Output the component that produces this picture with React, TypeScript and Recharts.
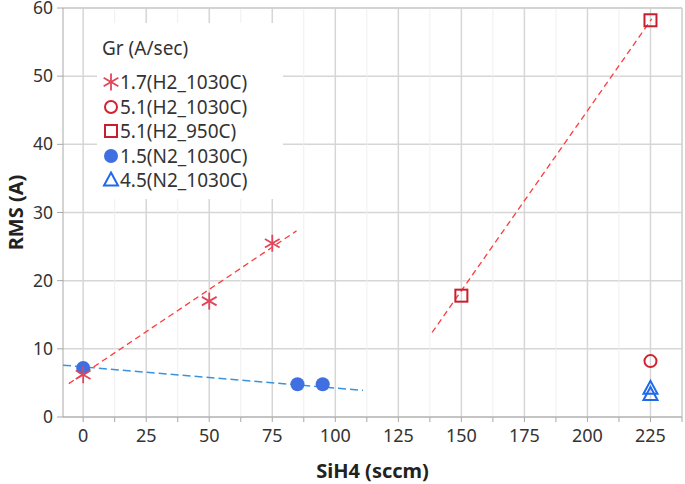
import { ScatterChart, Scatter, XAxis, YAxis, CartesianGrid, ReferenceLine, Label } from "recharts";

// series
const h2Asterisk = [{ x: 0, y: 6.2 }, { x: 50, y: 17 }, { x: 75, y: 25.5 }];
const h2Circle = [{ x: 225, y: 8.2 }];
const h2Square = [{ x: 150, y: 17.8 }, { x: 225, y: 58.2 }];
const n2Dot = [{ x: 0, y: 7.2 }, { x: 85, y: 4.8 }, { x: 95, y: 4.8 }];
const n2Triangle = [{ x: 225, y: 4.2 }, { x: 225, y: 3.3 }];

// dashed fit lines (end points)
const fitLow = [{ x: -5.7, y: 4.9 }, { x: 84.6, y: 27.3 }];
const fitHigh = [{ x: 138.4, y: 12.4 }, { x: 225.5, y: 58.4 }];
const fitN2 = [{ x: -8, y: 7.6 }, { x: 111, y: 3.9 }];

const xMajorTicks = [0, 25, 50, 75, 100, 125, 150, 175, 200, 225];
const xMinorTicks = [12.5, 37.5, 62.5, 87.5, 112.5, 137.5, 162.5, 187.5, 212.5, 237.5];
const yTicks = [0, 10, 20, 30, 40, 50, 60];

const legendTitle = "Gr (A/sec)";
const legendItems = [
  { label: "1.7(H2_1030C)", kind: "asterisk" },
  { label: "5.1(H2_1030C)", kind: "circle" },
  { label: "5.1(H2_950C)", kind: "square" },
  { label: "1.5(N2_1030C)", kind: "dot" },
  { label: "4.5(N2_1030C)", kind: "triangle" },
];

const FONT = "'Segoe UI', 'Noto Sans', sans-serif";
const C_AST = "#e0475a";
const C_CIRCLE = "#d42030";
const C_SQUARE = "#c81e2e";
const C_DOT = "#3f6fe0";
const C_TRI = "#1f6aea";

const Marker = ({ kind, cx, cy }: { kind: string; cx: number; cy: number }) => {
  if (kind === "asterisk") {
    const r = 8.5;
    const dx = r * Math.cos(Math.PI / 6);
    const dy = r * Math.sin(Math.PI / 6);
    return (
      <g stroke={C_AST} strokeWidth={1.8}>
        <line x1={cx} y1={cy - r} x2={cx} y2={cy + r} />
        <line x1={cx - dx} y1={cy - dy} x2={cx + dx} y2={cy + dy} />
        <line x1={cx - dx} y1={cy + dy} x2={cx + dx} y2={cy - dy} />
      </g>
    );
  }
  if (kind === "circle") return <circle cx={cx} cy={cy} r={6} fill="none" stroke={C_CIRCLE} strokeWidth={2} />;
  if (kind === "square") return <rect x={cx - 6} y={cy - 6} width={12} height={12} fill="none" stroke={C_SQUARE} strokeWidth={2} />;
  if (kind === "dot") return <circle cx={cx} cy={cy} r={7} fill={C_DOT} />;
  return (
    <path
      d={`M${cx},${cy - 7.5} L${cx + 7},${cy + 5.5} L${cx - 7},${cy + 5.5} Z`}
      fill="none"
      stroke={C_TRI}
      strokeWidth={2}
      strokeLinejoin="miter"
    />
  );
};

const shapeOf = (kind: string) => (props: any) => <Marker kind={kind} cx={props.cx} cy={props.cy} />;

const XTick = (props: any) => {
  const { x, y, payload } = props;
  if (payload.value % 25 !== 0) return <g />;
  return (
    <text x={x} y={y + 18} textAnchor="middle" fill="#333" fontSize={18} fontFamily={FONT}>
      {payload.value}
    </text>
  );
};

const YTick = (props: any) => {
  const { x, y, payload } = props;
  return (
    <text x={x - 2} y={y + 6} textAnchor="end" fill="#333" fontSize={17.5} fontFamily={FONT}>
      {payload.value}
    </text>
  );
};

const YTitle = (props: any) => {
  const { viewBox } = props;
  const cy = viewBox.y + viewBox.height / 2;
  return (
    <text x={15} y={cy} transform={`rotate(-90, 15, ${cy})`} textAnchor="middle" dominantBaseline="central" fill="#222" fontSize={20} fontWeight="bold" fontFamily={FONT}>
      RMS (A)
    </text>
  );
};

export default function App() {
  return (
    <div style={{ position: "absolute", left: 0, top: 0, width: 685, height: 484, background: "#fff" }}>
      <ScatterChart width={685} height={484} margin={{ top: 8, right: 3, left: 0, bottom: 0 }}>
        <CartesianGrid vertical={false} stroke="#d6d6d6" strokeWidth={1.5} />
        {xMinorTicks.map((v) => (
          <ReferenceLine key={`mn${v}`} x={v} stroke="#efefef" strokeWidth={1} />
        ))}
        {xMajorTicks.map((v) => (
          <ReferenceLine key={`mj${v}`} x={v} stroke="#d6d6d6" strokeWidth={1.5} />
        ))}
        <ReferenceLine y={60} stroke="#cfcfcf" strokeWidth={1.5} />
        <ReferenceLine x={237.5} stroke="#cfcfcf" strokeWidth={1.5} />
        <XAxis
          type="number"
          dataKey="x"
          domain={[-8, 237.5]}
          ticks={[...xMajorTicks, ...xMinorTicks].sort((a, b) => a - b)}
          interval={0}
          allowDataOverflow
          height={67}
          stroke="#a8a8a8"
          tickSize={5}
          tick={<XTick />}
        >
          <Label value="SiH4 (sccm)" position="insideBottom" offset={6} fill="#222" fontSize={20} fontWeight="bold" fontFamily={FONT} />
        </XAxis>
        <YAxis
          type="number"
          dataKey="y"
          domain={[0, 60]}
          ticks={yTicks}
          interval={0}
          allowDataOverflow
          width={63}
          stroke="#a8a8a8"
          tickSize={6}
          tick={<YTick />}
        >
          <Label content={<YTitle />} />
        </YAxis>

        <Scatter data={fitLow} line={{ stroke: "#ff3b3b", strokeWidth: 1.3, strokeDasharray: "6 4" }} shape={() => <g />} isAnimationActive={false} />
        <Scatter data={fitHigh} line={{ stroke: "#ff3b3b", strokeWidth: 1.3, strokeDasharray: "6 4" }} shape={() => <g />} isAnimationActive={false} />
        <Scatter data={fitN2} line={{ stroke: "#3a93dc", strokeWidth: 1.5, strokeDasharray: "8 4" }} shape={() => <g />} isAnimationActive={false} />

        <Scatter data={n2Dot} shape={shapeOf("dot")} isAnimationActive={false} />
        <Scatter data={h2Asterisk} shape={shapeOf("asterisk")} isAnimationActive={false} />
        <Scatter data={h2Circle} shape={shapeOf("circle")} isAnimationActive={false} />
        <Scatter data={h2Square} shape={shapeOf("square")} isAnimationActive={false} />
        <Scatter data={n2Triangle} shape={shapeOf("triangle")} isAnimationActive={false} />
      </ScatterChart>

      {/* legend box */}
      <div
        style={{
          position: "absolute",
          left: 97,
          top: 23,
          width: 186,
          height: 176,
          background: "#fff",
          fontFamily: FONT,
          color: "#333",
        }}
      >
        <div style={{ position: "absolute", left: 5, top: 12, fontSize: 19, lineHeight: "26px" }}>{legendTitle}</div>
        {legendItems.map((it, i) => (
          <div key={it.label} style={{ position: "absolute", left: 5, top: 46 + i * 24.5, height: 26, display: "flex", alignItems: "center" }}>
            <svg width={18} height={20}>
              <Marker kind={it.kind} cx={9} cy={10} />
            </svg>
            <span style={{ fontSize: 19, lineHeight: "26px", marginLeft: 0 }}>{it.label}</span>
          </div>
        ))}
      </div>
    </div>
  );
}
